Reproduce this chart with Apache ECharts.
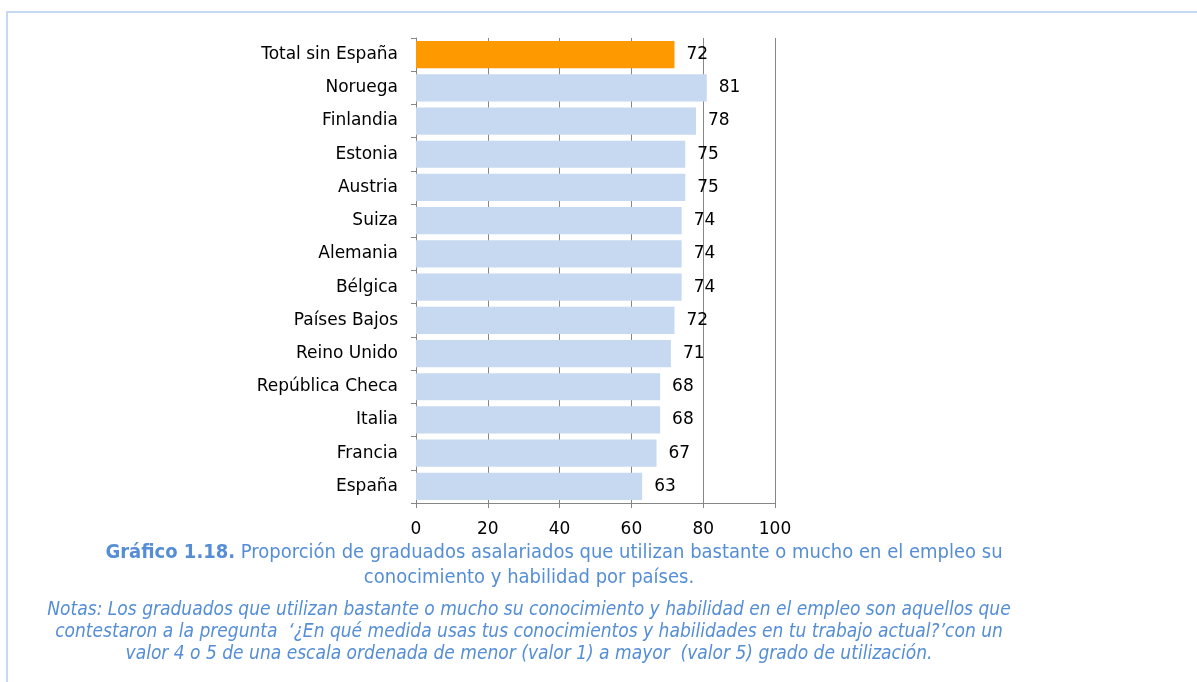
<!DOCTYPE html>
<html>
<head>
<meta charset="utf-8">
<script src="https://cdn.jsdelivr.net/npm/echarts@6/dist/echarts.min.js"></script>
<style>
  html, body { margin: 0; padding: 0; background: #fff; }
  #chart { width: 1197px; height: 682px; }
</style>
</head>
<body>
<div id="chart"></div>
<script>
// países, de arriba abajo
const countries = ['Total sin España', 'Noruega', 'Finlandia', 'Estonia', 'Austria', 'Suiza', 'Alemania',
  'Bélgica', 'Países Bajos', 'Reino Unido', 'República Checa', 'Italia', 'Francia', 'España']
const values = [72, 81, 78, 75, 75, 74, 74, 74, 72, 71, 68, 68, 67, 63]
const xTicks = [0, 20, 40, 60, 80, 100]

const captionBold = 'Gráfico 1.18.'
const captionLine1 = ' Proporción de graduados asalariados que utilizan bastante o mucho en el empleo su'
const captionLine2 = 'conocimiento y habilidad por países.'
const notesText = 'Notas: Los graduados que utilizan bastante o mucho su conocimiento y habilidad en el empleo son aquellos que\n' +
  'contestaron a la pregunta  \u2018¿En qué medida usas tus conocimientos y habilidades en tu trabajo actual?\u2019con un\n' +
  'valor 4 o 5 de una escala ordenada de menor (valor 1) a mayor  (valor 5) grado de utilización.'

const chart = echarts.init(document.getElementById('chart'))

const captionRich = {
  b: { fontFamily: 'DejaVu Sans Condensed', fontSize: 20, fontWeight: 'bold', color: '#558ED5' },
  n: { fontFamily: 'DejaVu Sans Condensed', fontSize: 20, fontWeight: 'normal', color: '#558ED5' }
}

const option = {
  animation: false,
  textStyle: { fontFamily: 'DejaVu Sans' },
  grid: { left: 416, right: 422, top: 38, bottom: 179 },
  graphic: [
    {
      type: 'rect',
      shape: { x: 7, y: 12, width: 1300, height: 800 },
      style: { fill: 'none', stroke: '#C6D9F1', lineWidth: 2 },
      silent: true
    }
  ],
  title: [
    {
      text: '{b|' + captionBold + '}{n|' + captionLine1 + '}',
      left: 549,
      top: 538,
      textAlign: 'center',
      textStyle: { fontWeight: 'normal', rich: captionRich }
    },
    {
      text: '{n|' + captionLine2 + '}',
      left: 524,
      top: 563,
      textAlign: 'center',
      textStyle: { fontWeight: 'normal', rich: captionRich }
    },
    {
      text: notesText,
      left: 524,
      top: 594,
      textAlign: 'center',
      textStyle: {
        fontFamily: 'DejaVu Sans Condensed',
        fontSize: 19,
        fontWeight: 'normal',
        fontStyle: 'italic',
        color: '#558ED5',
        lineHeight: 22
      }
    }
  ],
  xAxis: {
    type: 'value',
    min: 0,
    max: 100,
    interval: 20,
    axisLine: { show: true, lineStyle: { color: '#868686' } },
    axisTick: { show: true, length: 5, lineStyle: { color: '#868686' } },
    splitLine: { show: true, lineStyle: { color: '#868686', width: 1 } },
    axisLabel: {
      color: '#000',
      fontSize: 17,
      margin: 18,
      formatter: v => (xTicks.includes(v) ? String(v) : '')
    }
  },
  yAxis: {
    type: 'category',
    data: countries,
    inverse: true,
    axisLine: { show: true, lineStyle: { color: '#868686' } },
    axisTick: { show: true, length: 5, lineStyle: { color: '#868686' } },
    axisLabel: { color: '#000', fontSize: 17, margin: 18 }
  },
  series: [
    {
      type: 'bar',
      barCategoryGap: '18%',
      data: values.map((v, i) => ({
        value: v,
        itemStyle: { color: i === 0 ? '#FF9900' : '#C6D9F1' }
      })),
      label: {
        show: true,
        position: 'right',
        distance: 12,
        color: '#000',
        fontSize: 17
      }
    }
  ]
}

chart.setOption(option)
</script>
</body>
</html>
